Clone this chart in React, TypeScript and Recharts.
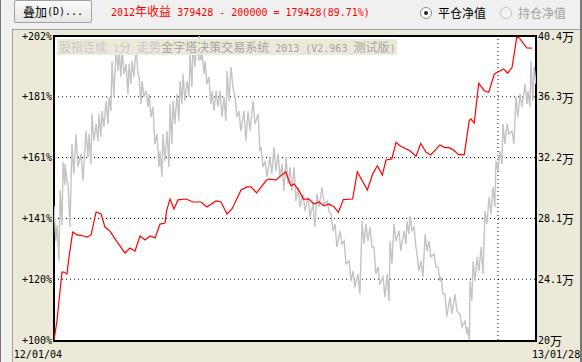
import { ComposedChart, Line, XAxis, YAxis, ReferenceLine } from "recharts";

// trading-day index, 2012-01-04 .. 2013-01-28
const dayCount = 260;
const yearBreak = 239.5;
const xLabels = ["12/01/04", "13/01/28"];

// equity (万) — red line
const redT = [0, 1.6, 4.3, 5.4, 7.0, 8.1, 10.1, 12.4, 16.2, 17.8, 20.0, 22.7, 25.4, 27.5, 30.2, 34.0, 38.3, 41.0, 43.7, 46.4, 49.1, 51.8, 54.5, 57.2, 59.9, 60.7, 62.6, 64.7, 66.9, 71.2, 75.0, 79.3, 82.5, 87.4, 90.1, 93.3, 96.0, 100.9, 104.1, 106.3, 109.3, 114.4, 116.0, 119.7, 125.0, 127.7, 129.5, 132.2, 134.5, 137.6, 140.2, 142.9, 145.6, 148.3, 151.0, 153.4, 156.1, 161.1, 163.6, 169.0, 171.9, 174.4, 177.1, 179.1, 182.2, 184.5, 186.6, 192.0, 195.3, 197.8, 200.7, 203.2, 208.2, 210.5, 213.6, 215.9, 218.3, 221.3, 224.0, 224.9, 226.7, 229.1, 232.1, 234.5, 237.5, 240.2, 242.6, 244.7, 247.1, 249.6, 251.0, 255.0, 257.8];
const redV = [20.00, 21.28, 24.56, 24.56, 24.43, 25.57, 27.25, 27.05, 26.98, 26.91, 27.05, 28.59, 28.46, 27.58, 27.31, 26.58, 25.84, 26.17, 25.97, 26.98, 26.71, 26.98, 26.85, 27.78, 27.85, 28.66, 29.46, 28.79, 29.40, 29.46, 29.26, 29.26, 28.93, 29.33, 29.26, 28.46, 28.79, 30.07, 30.27, 30.27, 29.87, 30.70, 30.80, 30.74, 31.29, 30.36, 30.47, 30.02, 29.46, 29.46, 29.13, 29.26, 29.01, 29.13, 28.95, 28.57, 29.42, 29.46, 31.29, 30.07, 31.14, 31.70, 31.07, 32.08, 32.15, 33.27, 33.04, 32.70, 32.33, 33.20, 32.60, 32.42, 33.09, 32.93, 32.89, 32.70, 32.44, 32.44, 34.72, 34.83, 34.56, 37.23, 36.73, 36.62, 37.85, 38.03, 38.19, 37.90, 38.30, 40.31, 40.27, 39.60, 39.58];

// index futures 1min (high / low per sample) — gray
const grayT = [0.5, 2.2, 3.8, 5.4, 6.5, 8.1, 10.2, 12.4, 15.1, 17.8, 19.4, 21.0, 23.2, 24.8, 26.4, 28.6, 30.2, 31.8, 34.0, 35.6, 37.2, 39.4, 41.0, 42.6, 44.8, 46.4, 48.0, 50.2, 51.8, 53.9, 56.1, 57.7, 59.3, 61.5, 63.1, 64.7, 66.9, 68.5, 70.1, 72.3, 73.9, 75.5, 77.7, 78.8, 80.4, 82.0, 84.1, 85.8, 87.9, 90.1, 92.2, 93.9, 96.0, 98.2, 100.3, 103.0, 105.2, 107.9, 110.6, 112.2, 114.4, 117.0, 119.2, 121.4, 123.5, 125.7, 127.8, 130.0, 132.2, 134.9, 137.6, 140.2, 142.4, 145.1, 147.8, 150.0, 152.1, 154.8, 157.0, 159.7, 161.8, 164.5, 166.7, 168.8, 171.0, 173.1, 175.3, 178.0, 180.2, 181.8, 183.9, 186.6, 189.3, 190.9, 192.6, 194.7, 196.3, 198.5, 200.7, 202.8, 205.5, 207.7, 209.3, 211.4, 214.1, 216.8, 219.5, 222.2, 223.6, 224.9, 226.6, 228.7, 230.9, 233.0, 235.2, 237.3, 238.9, 241.1, 242.7, 244.9, 247.6, 249.7, 251.9, 254.6, 256.2, 257.8, 259.5];
const grayHi = [2368, 2330, 2400, 2456, 2452, 2412, 2492, 2512, 2472, 2518, 2512, 2552, 2532, 2552, 2558, 2578, 2586, 2658, 2686, 2678, 2686, 2652, 2652, 2658, 2686, 2626, 2618, 2598, 2592, 2566, 2512, 2478, 2512, 2518, 2572, 2578, 2592, 2618, 2632, 2618, 2672, 2698, 2698, 2708, 2672, 2658, 2626, 2598, 2598, 2598, 2586, 2638, 2646, 2586, 2558, 2558, 2558, 2578, 2552, 2486, 2458, 2466, 2486, 2472, 2452, 2466, 2446, 2446, 2406, 2392, 2386, 2372, 2392, 2406, 2378, 2352, 2332, 2318, 2298, 2258, 2238, 2232, 2338, 2332, 2326, 2286, 2246, 2226, 2232, 2298, 2332, 2318, 2318, 2338, 2348, 2326, 2272, 2258, 2312, 2298, 2272, 2246, 2226, 2192, 2186, 2192, 2152, 2138, 2126, 2218, 2258, 2266, 2286, 2358, 2386, 2406, 2458, 2478, 2532, 2532, 2518, 2586, 2592, 2612, 2598, 2658, 2646];
const grayLo = [2298, 2258, 2330, 2410, 2418, 2326, 2432, 2446, 2418, 2466, 2452, 2498, 2498, 2506, 2526, 2532, 2558, 2586, 2638, 2626, 2632, 2592, 2612, 2626, 2632, 2572, 2586, 2566, 2546, 2492, 2446, 2426, 2458, 2446, 2492, 2532, 2538, 2572, 2578, 2586, 2606, 2646, 2658, 2660, 2632, 2612, 2572, 2558, 2566, 2546, 2538, 2578, 2606, 2546, 2518, 2498, 2518, 2532, 2478, 2446, 2426, 2432, 2438, 2426, 2398, 2412, 2398, 2378, 2366, 2358, 2346, 2326, 2366, 2372, 2358, 2318, 2286, 2292, 2252, 2218, 2206, 2192, 2292, 2298, 2286, 2232, 2212, 2186, 2178, 2252, 2298, 2278, 2292, 2312, 2318, 2286, 2238, 2226, 2278, 2266, 2246, 2218, 2192, 2146, 2152, 2158, 2126, 2112, 2100, 2178, 2218, 2238, 2232, 2332, 2352, 2366, 2438, 2452, 2492, 2512, 2492, 2546, 2566, 2572, 2566, 2578, 2612];

const valTicks = [20, 24.08, 28.16, 32.24, 36.32, 40.4];
const leftLabels = ["+100%", "+120%", "+141%", "+161%", "+181%", "+202%"];
const rightLabels = ["20", "24.1", "28.1", "32.2", "36.3", "40.4"];

const mono = '"DejaVu Sans Mono", "Noto Sans CJK SC", monospace';
const cjk = '"Noto Sans CJK SC", sans-serif';

const redData = redT.map((t, i) => ({ t, v: redV[i] }));
const grayData = grayT.flatMap((t, i) => [
  { t: t - 0.5, g: grayHi[i] },
  { t: t + 0.5, g: grayLo[i] },
]);

const CJK_RE = /([\u3000-\u9fff\uff00-\uffef]+)/;
const Mixed = ({ text }: { text: string }) => (
  <>
    {text.split(CJK_RE).map((s, i) =>
      i % 2 ? <span key={i} style={{ fontFamily: cjk, fontSize: 12 }}>{s}</span> : <span key={i}>{s}</span>
    )}
  </>
);

const LeftTick = (p: any) => (
  <text x={p.x} y={p.y} textAnchor="end" dominantBaseline="central" fontFamily={mono} fontSize={10} fill="#000">
    {leftLabels[p.index]}
  </text>
);

const RightTick = (p: any) => (
  <text x={p.x} y={p.y} textAnchor="start" dominantBaseline="central" fontFamily={mono} fontSize={10} fill="#000">
    {rightLabels[p.index]}
    <tspan fontFamily={cjk} fontSize={12}>万</tspan>
  </text>
);

const DateTick = (p: any) => (
  <text x={p.index === 0 ? p.x + 8 : p.x - 4} y={p.y} dy={8} textAnchor={p.index === 0 ? "end" : "start"} fontFamily={mono} fontSize={10} fill="#000">
    {xLabels[p.index]}
  </text>
);

export default function App() {
  return (
    <div style={{ position: "relative", width: 582, height: 362, background: "#f0f0f0", fontFamily: mono, fontSize: 10, overflow: "hidden" }}>
      <style>{"body{margin:0}"}</style>
      <div style={{ position: "absolute", left: 0, top: 0, width: 1, height: 362, background: "#777" }} />
      <div style={{ position: "absolute", left: 580, top: 0, width: 2, height: 362, background: "#777" }} />

      {/* toolbar */}
      <div style={{ position: "absolute", left: 14, top: 0, width: 78, height: 23, boxSizing: "border-box", border: "1px solid #a0a0a0", borderRadius: 2, background: "linear-gradient(#fbfbfb, #e6e6e6)", display: "flex", alignItems: "center", justifyContent: "center", color: "#000" }}>
        <Mixed text="叠加(D)..." />
      </div>
      <div style={{ position: "absolute", left: 111, top: 3, height: 16, lineHeight: "16px", color: "#ff0000", whiteSpace: "nowrap" }}>
        <Mixed text="2012年收益 379428 - 200000 = 179428(89.71%)" />
      </div>
      <div style={{ position: "absolute", left: 420, top: 7, width: 12, height: 12, boxSizing: "border-box", borderRadius: "50%", border: "1px solid #8a8a8a", background: "#fff" }}>
        <div style={{ position: "absolute", left: 3, top: 3, width: 4, height: 4, borderRadius: "50%", background: "#222" }} />
      </div>
      <div style={{ position: "absolute", left: 438, top: 3, lineHeight: "20px", fontFamily: cjk, fontSize: 12, color: "#000" }}>平仓净值</div>
      <div style={{ position: "absolute", left: 500, top: 7, width: 12, height: 12, boxSizing: "border-box", borderRadius: "50%", border: "1px solid #c4c4c4", background: "#f4f4f4" }} />
      <div style={{ position: "absolute", left: 518, top: 3, lineHeight: "20px", fontFamily: cjk, fontSize: 12, color: "#a0a0a0" }}>持仓净值</div>

      {/* chart panel */}
      <div style={{ position: "absolute", left: 12, top: 29, width: 568, height: 333, boxSizing: "border-box", background: "#ece9d8", borderTop: "1px solid #a0a0a0", borderLeft: "1px solid #a0a0a0" }} />
      <div style={{ position: "absolute", left: 53, top: 35, width: 484, height: 307, boxSizing: "border-box", border: "2px solid #000", background: "#fff" }} />

      <div style={{ position: "absolute", left: 0, top: 0 }}>
        <ComposedChart width={582} height={362} margin={{ top: 36, right: 2, bottom: 0, left: 13 }}>
          <XAxis type="number" dataKey="t" domain={[0, dayCount]} ticks={[0, dayCount]} interval={0} height={22} axisLine={false} tickLine={false} tickSize={0} tickMargin={10} tick={DateTick} allowDataOverflow />
          <YAxis yAxisId="v" orientation="left" domain={[20, 40.4]} ticks={valTicks} interval={0} width={41} axisLine={false} tickLine={false} tickSize={0} tickMargin={2} tick={LeftTick} allowDataOverflow />
          <YAxis yAxisId="r" orientation="right" domain={[20, 40.4]} ticks={valTicks} interval={0} width={44} axisLine={false} tickLine={false} tickSize={0} tickMargin={2} tick={RightTick} allowDataOverflow />
          <YAxis yAxisId="g" orientation="right" hide width={0} domain={[2100, 2708]} allowDataOverflow />
          {valTicks.slice(1, -1).map((v) => (
            <ReferenceLine key={v} yAxisId="v" y={v} stroke="#000" strokeDasharray="1 3" />
          ))}
          <ReferenceLine yAxisId="v" x={yearBreak} stroke="#000" strokeDasharray="1 3" />
          <Line yAxisId="g" data={grayData} dataKey="g" type="linear" stroke="#c4c4c4" strokeWidth={1.4} dot={false} isAnimationActive={false} />
          <Line yAxisId="v" data={redData} dataKey="v" type="linear" stroke="#ff0000" strokeWidth={1.2} dot={false} isAnimationActive={false} />
        </ComposedChart>
      </div>

      {/* title overlay */}
      <div style={{ position: "absolute", left: 57, top: 39, height: 16, lineHeight: "16px", padding: "0 2px", background: "#ece9d8", whiteSpace: "nowrap" }}>
        <span style={{ color: "#c8c8c8" }}><Mixed text="股指连续 1分 走势" /></span>
        <span style={{ color: "#a4a4a4" }}><Mixed text="金字塔决策交易系统 2013 (V2.963 测试版)" /></span>
      </div>
    </div>
  );
}
